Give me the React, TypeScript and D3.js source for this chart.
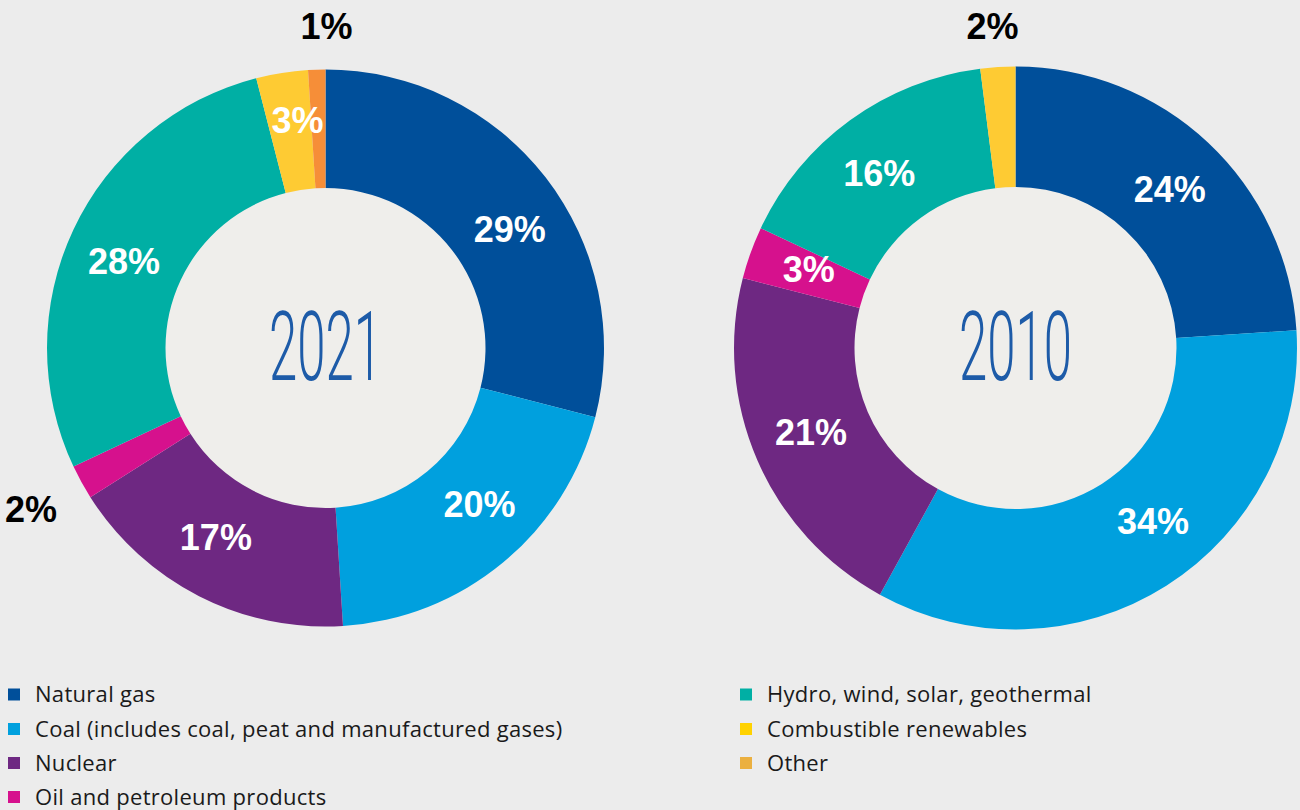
import React, { useEffect, useRef } from "react";
import * as d3 from "d3";

const categories = [
  "Natural gas",
  "Coal (includes coal, peat and manufactured gases)",
  "Nuclear",
  "Oil and petroleum products",
  "Hydro, wind, solar, geothermal",
  "Combustible renewables",
  "Other",
];
const values2021 = [29, 20, 17, 2, 28, 3, 1];
const values2010 = [24, 34, 21, 3, 16, 2, 0];
const sliceColors = ["#004f9a", "#00a0de", "#6e2882", "#d6118d", "#00afa4", "#fecb33", "#f68e38"];
const legendColors = ["#004f9a", "#00a0de", "#6e2882", "#d6118d", "#00afa4", "#ffd200", "#ebb040"];
// slices labelled outside the ring
const outside2021 = [false, false, false, true, false, false, true];
const outside2010 = [false, false, false, false, false, true, false];
// small angular nudges (degrees) of the labels, as placed in the original
const nudge2021 = [5, -5, 3, 0, -2, 2, 0];
const nudge2010 = [1, -6, 1, 1, -2, -0.5, 0];

const W = 1300;
const H = 810;

export default function App() {
  const ref = useRef<SVGSVGElement>(null);

  useEffect(() => {
    const svg = d3.select(ref.current);
    svg.selectAll("*").remove();
    svg.append("rect").attr("width", W).attr("height", H).attr("fill", "#ececec");

    const pie = d3.pie<number>().sort(null).value((d) => d);

    const charts = [
      { cx: 325.5, cy: 348, outerR: 278.5, innerR: 160, values: values2021, outside: outside2021, nudge: nudge2021, year: "2021" },
      { cx: 1015.5, cy: 348, outerR: 281.5, innerR: 161, values: values2010, outside: outside2010, nudge: nudge2010, year: "2010" },
    ];

    charts.forEach((c) => {
      const arc = d3.arc<d3.PieArcDatum<number>>().innerRadius(c.innerR).outerRadius(c.outerR);
      const g = svg.append("g").attr("transform", `translate(${c.cx},${c.cy})`);
      g.append("circle").attr("r", c.innerR).attr("fill", "#efeeeb");
      const arcs = pie(c.values);
      g.selectAll("path.slice")
        .data(arcs.filter((a) => a.data > 0))
        .join("path")
        .attr("class", "slice")
        .attr("d", arc)
        .attr("fill", (d) => sliceColors[d.index]);

      arcs.forEach((a, i) => {
        if (a.data <= 0) return;
        const mid = (a.startAngle + a.endAngle) / 2 + (c.nudge[i] * Math.PI) / 180;
        let r: number, fill: string;
        if (c.outside[i]) {
          r = i === 3 ? 336 : 322;
          fill = "#000";
        } else {
          r = (c.innerR + c.outerR) / 2 + (a.data < 5 && i === 5 ? 10 : 0);
          fill = "#fff";
        }
        let x = Math.sin(mid) * r;
        const y = -Math.cos(mid) * r;
        if (c.outside[i] && i === 6) x = 1;
        g.append("text")
          .attr("x", x)
          .attr("y", y)
          .attr("text-anchor", "middle")
          .attr("dominant-baseline", "central")
          .attr("font-family", "'Liberation Sans', Arial, sans-serif")
          .attr("font-weight", "bold")
          .attr("font-size", 36)
          .attr("fill", fill)
          .text(`${a.data}%`);
      });

      g.append("text")
        .attr("x", 0)
        .attr("y", 0)
        .attr("text-anchor", "middle")
        .attr("dominant-baseline", "central")
        .attr("transform", "scale(0.53,1)")
        .attr("font-family", "Roboto, 'Open Sans', sans-serif")
        .attr("font-weight", 300)
        .attr("font-size", 96)
        .attr("fill", "#1d5ba8")
        .text(c.year);
    });

    const legend = svg.append("g");
    const rows = [
      { i: 0, x: 8, y: 694.5 },
      { i: 1, x: 8, y: 729 },
      { i: 2, x: 8, y: 763 },
      { i: 3, x: 8, y: 797 },
      { i: 4, x: 740, y: 694.5 },
      { i: 5, x: 740, y: 729 },
      { i: 6, x: 740, y: 763 },
    ];
    rows.forEach((r) => {
      legend
        .append("rect")
        .attr("x", r.x)
        .attr("y", r.y - 6)
        .attr("width", 12)
        .attr("height", 12)
        .attr("fill", legendColors[r.i]);
      legend
        .append("text")
        .attr("x", r.x + 27)
        .attr("y", r.y + 7.8)
        .attr("font-family", "'Open Sans', 'Liberation Sans', sans-serif")
        .attr("font-weight", 400)
        .attr("font-size", 22)
        .attr("letter-spacing", 0.3)
        .attr("fill", "#1a1a1a")
        .text(categories[r.i]);
    });
  }, []);

  return (
    <div style={{ position: "absolute", left: 0, top: 0 }}>
      <svg ref={ref} width={W} height={H} style={{ display: "block" }} />
    </div>
  );
}
